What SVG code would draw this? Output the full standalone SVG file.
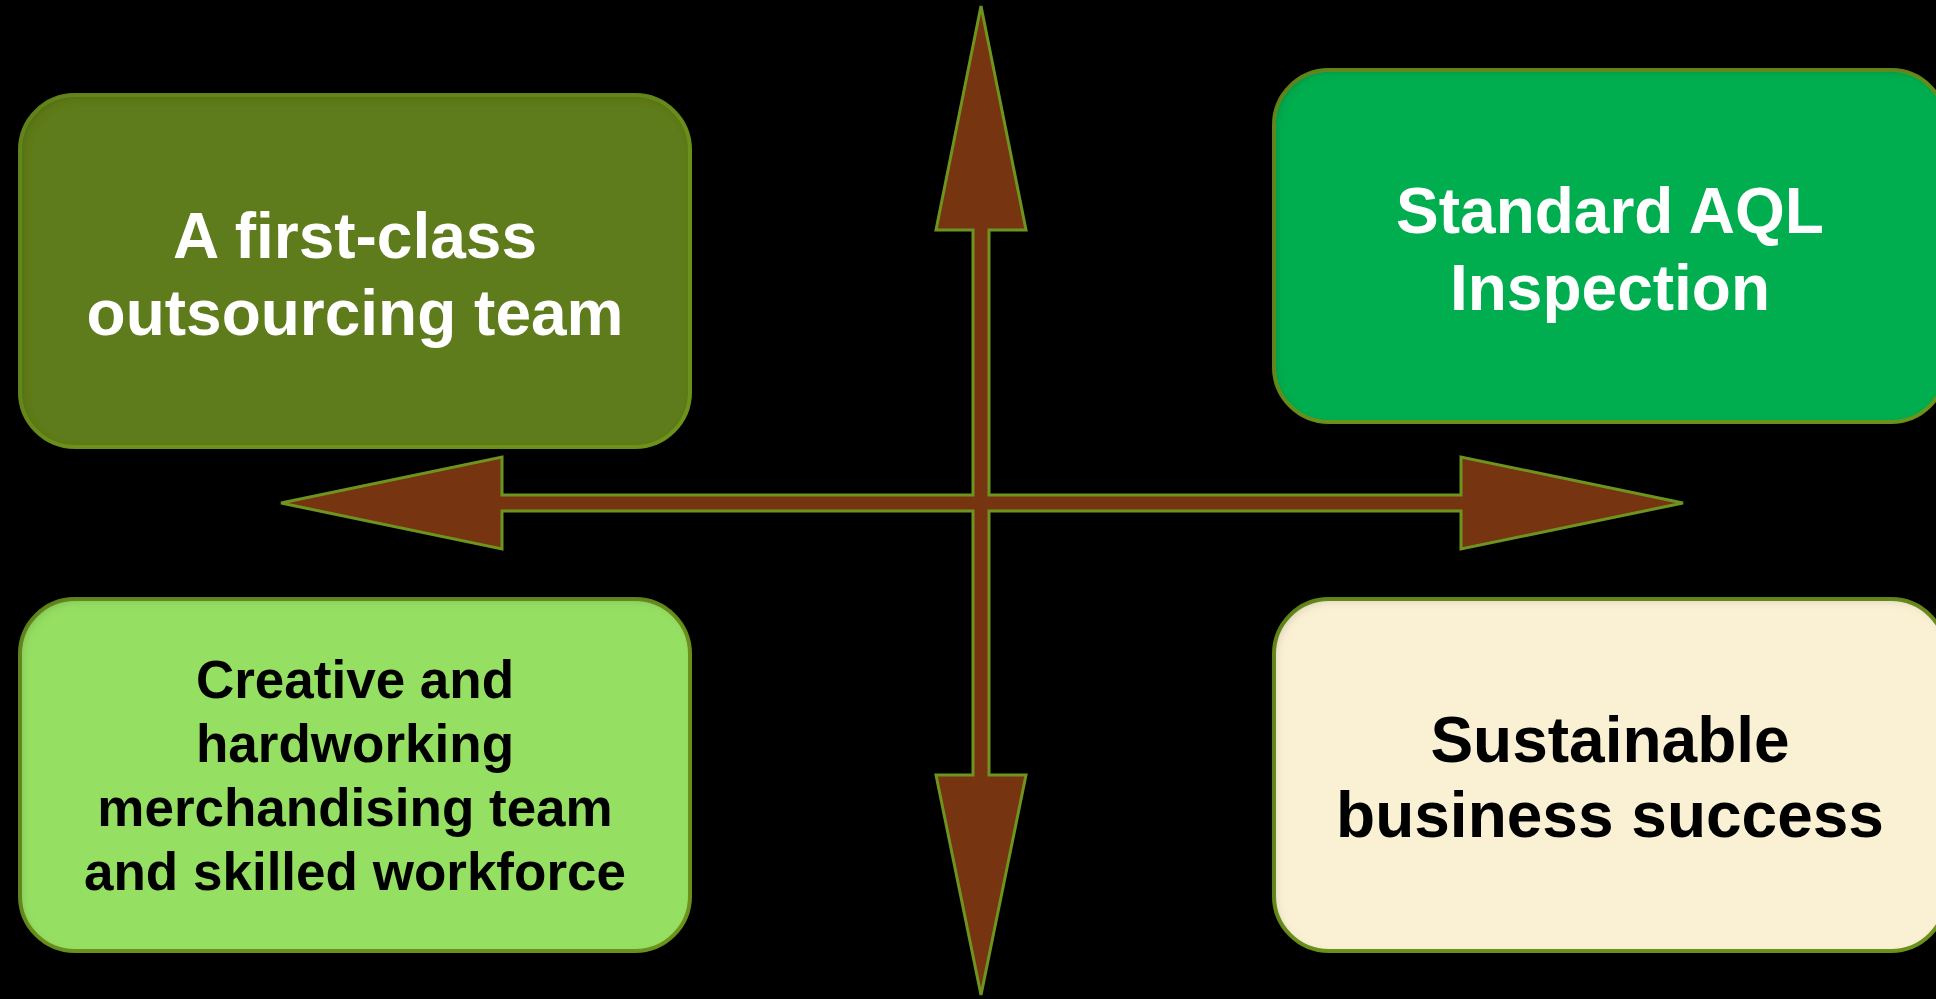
<svg xmlns="http://www.w3.org/2000/svg" width="1936" height="999" viewBox="0 0 1936 999">
<style>
.box{stroke:#6E9420;stroke-width:4;filter:url(#inner)}
.t{font-family:"Liberation Sans",Arial,sans-serif;font-weight:bold;text-anchor:middle}
.w{fill:#FFFFFF}
.k{fill:#000000}
.arrow{fill:#763410;stroke:#6E9420;stroke-width:3;stroke-linejoin:miter}
</style>
<defs>
<filter id="inner" x="-5%" y="-5%" width="110%" height="110%">
<feOffset dx="3" dy="3" in="SourceAlpha" result="off"/>
<feGaussianBlur in="off" stdDeviation="5" result="blur"/>
<feComposite in="SourceAlpha" in2="blur" operator="out" result="inv"/>
<feFlood flood-color="#000" flood-opacity="0.35"/>
<feComposite in2="inv" operator="in" result="sh"/>
<feComposite in="sh" in2="SourceAlpha" operator="in" result="shc"/>
<feMerge><feMergeNode in="SourceGraphic"/><feMergeNode in="shc"/></feMerge>
</filter>
</defs>
<rect width="1936" height="999" fill="#000000"/>
<g id="connectors">
<polygon class="arrow" points="981,6 1026,230 989,230 989,495 1461,495 1461,457 1683,503 1461,549 1461,511 989,511 989,775 1026,775 981,995 936,775 973,775 973,511 502,511 502,549 281,503 502,457 502,495 973,495 973,230 936,230"/>
</g>
<g id="node-outsourcing">
<rect class="box" x="20" y="95" width="670" height="352" rx="55" ry="55" fill="#5E7B1A"/>
<text class="t w" font-size="64" x="355" y="258">A first-class</text>
<text class="t w" font-size="64" x="355" y="335">outsourcing team</text>
</g>
<g id="node-aql">
<rect class="box" x="1274" y="70" width="672" height="352" rx="55" ry="55" fill="#00AD50"/>
<text class="t w" font-size="64" x="1610" y="233">Standard AQL</text>
<text class="t w" font-size="64" x="1610" y="310">Inspection</text>
</g>
<g id="node-merchandising">
<rect class="box" x="20" y="599" width="670" height="352" rx="55" ry="55" fill="#95DF64"/>
<text class="t k" font-size="53" x="355" y="698">Creative and</text>
<text class="t k" font-size="53" x="355" y="762">hardworking</text>
<text class="t k" font-size="53" x="355" y="826">merchandising team</text>
<text class="t k" font-size="53" x="355" y="890">and skilled workforce</text>
</g>
<g id="node-success">
<rect class="box" x="1274" y="599" width="672" height="352" rx="55" ry="55" fill="#FAF0D3"/>
<text class="t k" font-size="64" x="1610" y="762">Sustainable</text>
<text class="t k" font-size="64" x="1610" y="837">business success</text>
</g>
</svg>
